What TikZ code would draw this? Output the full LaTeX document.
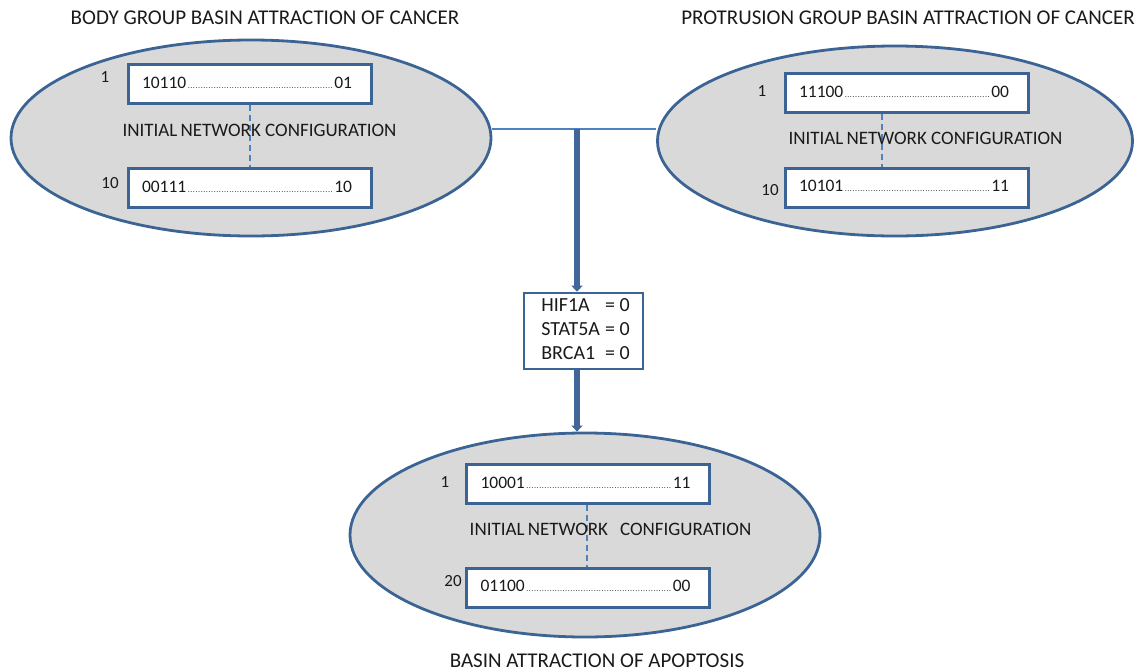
\documentclass[tikz,border=0pt]{standalone}
\usepackage{fontspec}
\setmainfont{Carlito}
\usetikzlibrary{shapes.geometric,arrows.meta}
\definecolor{edgeblue}{HTML}{3B6494}
\definecolor{fillg}{HTML}{D9D9D9}
\definecolor{thinblue}{HTML}{4F81BD}
\definecolor{arrowblue}{HTML}{41679A}
\definecolor{txt}{HTML}{1A1A1A}
\newcommand{\dotrow}[2]{\hbox to 243pt{\hskip14pt #1\cleaders\hbox to 2.6pt{\hss{\fontsize{8}{8}\selectfont.}\hss}\hfill #2\hskip19pt}}
\tikzset{
  basin/.style={ellipse, draw=edgeblue, fill=fillg, line width=2.8pt, inner sep=0pt},
  cfg/.style={draw=edgeblue, fill=white, line width=3pt, minimum width=243pt, minimum height=39pt, inner sep=0pt, text=txt, font=\fontsize{17.5}{19}\selectfont},
  idx/.style={text=txt, font=\fontsize{17}{19}\selectfont, inner sep=0pt},
  inc/.style={text=txt, font=\fontsize{19}{21}\selectfont, inner sep=0pt},
  ttl/.style={text=txt, font=\fontsize{21}{24}\selectfont, inner sep=0pt},
  dashlink/.style={draw=thinblue, dash pattern=on 6pt off 4pt, line width=2pt},
  fatarrow/.style={draw=arrowblue, line width=6pt, -{Triangle[width=11pt,length=6pt]}},
  genebox/.style={draw=edgeblue, fill=white, line width=2.6pt, minimum width=119pt, minimum height=76pt, inner sep=0pt, text=txt, font=\fontsize{20}{24}\selectfont},
}
\begin{document}
\begin{tikzpicture}[x=1pt,y=-1pt]
\useasboundingbox (0,0) rectangle (1146,672);
% titles
\node[ttl] (t1) at (265,18) {BODY GROUP BASIN ATTRACTION OF CANCER};
\node[ttl] (t2) at (908,18) {PROTRUSION GROUP BASIN ATTRACTION OF CANCER};
\node[ttl] (t3) at (597,661) {BASIN ATTRACTION OF APOPTOSIS};
% ellipses
\node[basin, minimum width=480pt, minimum height=196pt] (L) at (251,138) {};
\node[basin, minimum width=475pt, minimum height=190pt] (R) at (895,141) {};
\node[basin, minimum width=470pt, minimum height=204pt] (B) at (585,535) {};
% horizontal link
\draw[draw=thinblue, line width=1.4pt] ([yshift=9pt]L.east) -- ([yshift=12pt]R.west);
\coordinate (j) at (577,129);
% left ellipse contents
\node[cfg] (L1) at (249.5,83.5) {\raisebox{2pt}{\dotrow{10110}{01}}};
\node[cfg] (L2) at (249.5,187.5) {\raisebox{2pt}{\dotrow{00111}{10}}};
\draw[dashlink] (L1.south -| 250,0) -- (L2.north -| 250,0);
\node[inc] (Li) at (259.5,130) {INITIAL\,NETWORK CONFIGURATION};
\node[idx] (Ln1) at (105,77) {1};
\node[idx] (Ln2) at (110,183) {10};
% right ellipse contents
\node[cfg] (R1) at (906.5,93) {\raisebox{2pt}{\dotrow{11100}{00}}};
\node[cfg] (R2) at (906.5,187.5) {\raisebox{4pt}{\dotrow{10101}{11}}};
\draw[dashlink] (R1.south -| 882,0) -- (R2.north -| 882,0);
\node[inc] (Ri) at (925.5,138) {INITIAL\,NETWORK CONFIGURATION};
\node[idx] (Rn1) at (762,91) {1};
\node[idx] (Rn2) at (770,190) {10};
% bottom ellipse contents
\node[cfg] (B1) at (588,483.5) {\raisebox{1pt}{\dotrow{10001}{11}}};
\node[cfg] (B2) at (588,588) {\raisebox{4pt}{\dotrow{01100}{00}}};
\draw[dashlink] (B1.south -| 587,0) -- (B2.north -| 587,0);
\node[inc] (Bi) at (610.5,529) {INITIAL\,NETWORK\hskip 12pt CONFIGURATION};
\node[idx] (Bn1) at (445,482) {1};
\node[idx] (Bn2) at (453,581) {20};
% gene box
\node[genebox, align=left] (H) at (583.5,331) {\hskip4pt\raisebox{-3pt}{\begin{tabular}{@{}l@{\hskip 5pt}l@{}}HIF1A & = 0\\STAT5A & = 0\\BRCA1 & = 0\end{tabular}}};
% thick arrows
\draw[fatarrow] (j) -- (j |- H.north);
\draw[fatarrow] (j |- H.south) -- (j |- B.north);
\end{tikzpicture}
\end{document}
